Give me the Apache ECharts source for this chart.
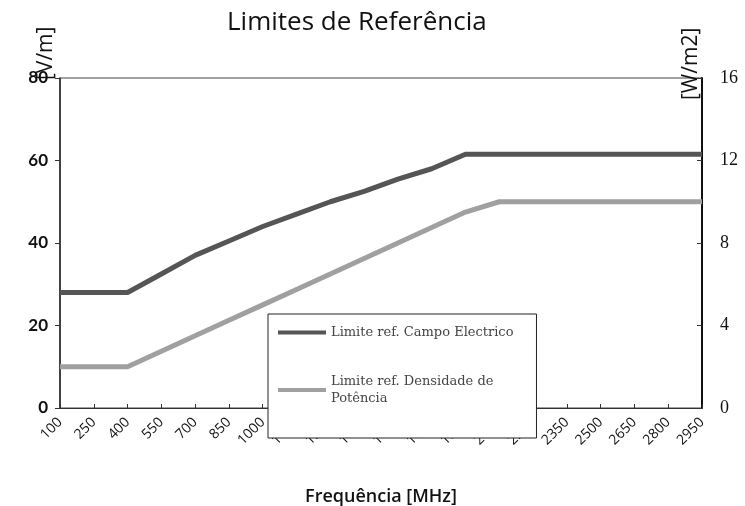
<!DOCTYPE html>
<html>
<head>
<meta charset="utf-8">
<script src="https://cdn.jsdelivr.net/npm/echarts@6/dist/echarts.min.js"></script>
<style>
  html, body { margin: 0; padding: 0; background: #fff; }
  #main { width: 745px; height: 506px; }
</style>
</head>
<body>
<div id="main"></div>
<script>
var frequencias = ['100','250','400','550','700','850','1000','1150','1300','1450',
    '1600','1750','1900','2050','2200','2350','2500','2650','2800','2950'];

var campoElectrico = [28, 28, 28, 32.5, 37, 40.5, 44, 47, 50, 52.5,
    55.5, 58, 61.5, 61.5, 61.5, 61.5, 61.5, 61.5, 61.5, 61.5];

var densidadePotencia = [2, 2, 2, 2.75, 3.5, 4.25, 5, 5.75, 6.5, 7.25,
    8, 8.75, 9.5, 10, 10, 10, 10, 10, 10, 10];

var myChart = echarts.init(document.getElementById('main'));

var option = {
    animation: false,
    title: {
        text: 'Limites de Referência',
        left: 222,
        top: 5,
        textStyle: {
            fontFamily: 'Open Sans',
            fontWeight: 'normal',
            fontSize: 26,
            color: '#111'
        }
    },
    grid: {
        left: 60,
        right: 43,
        top: 78,
        bottom: 98,
        outerBoundsMode: 'none',
        containLabel: false,
        show: true,
        borderColor: '#444',
        borderWidth: 1
    },
    legend: {
        orient: 'vertical',
        left: 268,
        top: 314,
        itemWidth: 48,
        itemHeight: 4,
        itemGap: 32,
        padding: [10, 23, 31, 10],
        backgroundColor: '#fff',
        borderColor: '#222',
        borderWidth: 1,
        icon: 'rect',
        textStyle: {
            fontFamily: 'DejaVu Serif',
            fontSize: 13,
            color: '#444',
            lineHeight: 17
        },
        formatter: function (name) {
            return name.replace('Densidade de ', 'Densidade de\n');
        },
        data: ['Limite ref. Campo Electrico', 'Limite ref. Densidade de Potência']
    },
    xAxis: {
        type: 'category',
        boundaryGap: false,
        data: frequencias,
        name: 'Frequência [MHz]',
        nameLocation: 'middle',
        nameGap: 80,
        nameTextStyle: {
            fontFamily: 'Open Sans',
            fontWeight: 600,
            fontSize: 18,
            color: '#111'
        },
        axisLine: { lineStyle: { color: '#333', width: 1 } },
        axisTick: { show: true, length: 4, inside: true, lineStyle: { color: '#333' } },
        axisLabel: {
            rotate: 45,
            interval: 0,
            margin: 12,
            fontFamily: 'Open Sans',
            fontSize: 14,
            color: '#111'
        },
        splitLine: { show: false }
    },
    yAxis: [
        {
            type: 'value',
            min: 0,
            max: 80,
            interval: 20,
            name: '[V/m]',
            nameLocation: 'end',
            nameRotate: 90,
            nameGap: -2,
            nameMoveOverlap: false,
            nameTextStyle: {
                fontFamily: 'Open Sans',
                fontSize: 21,
                color: '#111',
                align: 'left',
                verticalAlign: 'bottom',
                padding: [0, 0, 3, 0]
            },
            axisLine: { show: true, lineStyle: { color: '#222', width: 1.5 } },
            axisTick: { show: true, length: 5, lineStyle: { color: '#333' } },
            axisLabel: {
                fontFamily: 'Lato',
                fontWeight: 'bold',
                fontSize: 17,
                color: '#111',
                margin: 12
            },
            splitLine: { show: false }
        },
        {
            type: 'value',
            min: 0,
            max: 16,
            interval: 4,
            name: '[W/m2]',
            nameLocation: 'end',
            nameRotate: 90,
            nameGap: -22,
            nameMoveOverlap: false,
            nameTextStyle: {
                fontFamily: 'Open Sans',
                fontSize: 21,
                color: '#111',
                align: 'left',
                verticalAlign: 'bottom',
                padding: [0, 0, 0, 0]
            },
            axisLine: { show: true, lineStyle: { color: '#111', width: 2 } },
            axisTick: { show: true, length: 5, inside: true, lineStyle: { color: '#333' } },
            axisLabel: {
                fontFamily: 'Liberation Serif',
                fontSize: 18,
                color: '#111',
                margin: 18
            },
            splitLine: { show: false }
        }
    ],
    series: [
        {
            name: 'Limite ref. Campo Electrico',
            type: 'line',
            yAxisIndex: 0,
            data: campoElectrico,
            showSymbol: false,
            symbol: 'none',
            lineStyle: { color: '#555', width: 5 },
            itemStyle: { color: '#555' }
        },
        {
            name: 'Limite ref. Densidade de Potência',
            type: 'line',
            yAxisIndex: 1,
            data: densidadePotencia,
            showSymbol: false,
            symbol: 'none',
            lineStyle: { color: '#a0a0a0', width: 5 },
            itemStyle: { color: '#a0a0a0' }
        }
    ]
};
myChart.setOption(option);
</script>
</body>
</html>
